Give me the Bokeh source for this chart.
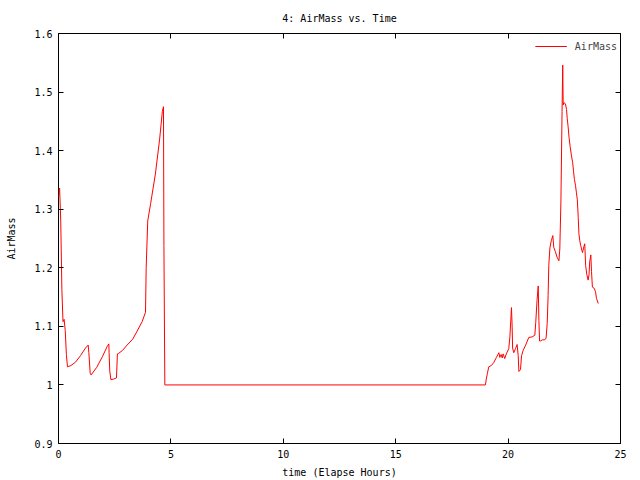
from bokeh.plotting import figure
from bokeh.models import (ColumnDataSource, FixedTicker, LinearAxis, CustomJSTickFormatter,
                          Range1d, Legend, LegendItem)
from bokeh.embed import file_html
from bokeh.resources import INLINE

# ---- data ----
time_hours = [
    0.00, 0.05, 0.10, 0.15, 0.20, 0.25, 0.30, 0.35, 0.40, 0.55, 0.76, 0.98, 1.20, 1.32,
    1.35, 1.41, 1.45, 1.70, 1.95, 2.17, 2.24, 2.25, 2.28, 2.33, 2.45, 2.58, 2.62, 2.68,
    2.85, 3.05, 3.30, 3.50, 3.72, 3.87, 3.90, 3.97, 4.10, 4.31, 4.50, 4.62, 4.67, 4.69,
    4.73, 18.99, 19.03, 19.08, 19.14, 19.25, 19.36, 19.48, 19.59, 19.63, 19.69, 19.74,
    19.78, 19.85, 19.92, 20.03, 20.08, 20.15, 20.18, 20.20, 20.25, 20.33, 20.40, 20.45,
    20.48, 20.55, 20.60, 20.67, 20.78, 20.92, 21.07, 21.19, 21.23, 21.29, 21.34, 21.37,
    21.40, 21.44, 21.52, 21.63, 21.69, 21.74, 21.78, 21.81, 21.86, 21.92, 21.99, 22.03,
    22.10, 22.18, 22.26, 22.30, 22.35, 22.40, 22.43, 22.45, 22.48, 22.55, 22.60, 22.63,
    22.67, 22.71, 22.76, 22.82, 22.87, 22.91, 22.95, 23.00, 23.04, 23.08, 23.12, 23.15,
    23.19, 23.23, 23.28, 23.31, 23.37, 23.41, 23.45, 23.50, 23.56, 23.60, 23.63, 23.68,
    23.71, 23.75, 23.83, 23.89, 23.93, 24.01,
]
airmass = [
    1.320, 1.336, 1.280, 1.163, 1.108, 1.112, 1.093, 1.052, 1.031, 1.033, 1.039, 1.050, 1.063, 1.068,
    1.055, 1.020, 1.017, 1.030, 1.048, 1.066, 1.070, 1.055, 1.024, 1.009, 1.010, 1.012, 1.053, 1.054,
    1.059, 1.068, 1.078, 1.092, 1.108, 1.124, 1.200, 1.280, 1.310, 1.360, 1.420, 1.467, 1.475, 1.238,
    1.000, 1.000, 1.010, 1.020, 1.031, 1.033, 1.038, 1.047, 1.055, 1.047, 1.052, 1.046,
    1.053, 1.045, 1.053, 1.062, 1.082, 1.132, 1.100, 1.063, 1.055, 1.062, 1.069, 1.050,
    1.023, 1.026, 1.050, 1.059, 1.068, 1.081, 1.082, 1.085, 1.107, 1.146, 1.169, 1.110,
    1.075, 1.075, 1.077, 1.077, 1.080, 1.105, 1.153, 1.204, 1.234, 1.246, 1.255, 1.235,
    1.228, 1.218, 1.212, 1.232, 1.314, 1.467, 1.546, 1.478, 1.482, 1.480, 1.470, 1.455,
    1.441, 1.423, 1.407, 1.391, 1.380, 1.365, 1.351, 1.340, 1.328, 1.316, 1.286, 1.258,
    1.246, 1.238, 1.230, 1.226, 1.236, 1.241, 1.204, 1.189, 1.179, 1.188, 1.210, 1.222,
    1.194, 1.167, 1.165, 1.159, 1.148, 1.139,
]
x_ticks = [0, 5, 10, 15, 20, 25]
y_ticks = [0.9, 1.0, 1.1, 1.2, 1.3, 1.4, 1.5, 1.6]
y_tick_labels = {0.9: "0.9", 1.0: "1", 1.1: "1.1", 1.2: "1.2", 1.3: "1.3", 1.4: "1.4", 1.5: "1.5", 1.6: "1.6"}
title_text = "4: AirMass vs. Time"
x_label = "time (Elapse Hours)"
y_label = "AirMass"
series_name = "AirMass"

FONT = "DejaVu Sans Mono"
FS = "10px"

p = figure(width=640, height=480, output_backend="svg", toolbar_location=None,
           x_range=Range1d(0, 25), y_range=Range1d(0.9, 1.6),
           min_border_left=58, min_border_right=20, min_border_top=33, min_border_bottom=34)
p.background_fill_color = "white"
p.border_fill_color = "white"
p.outline_line_color = "black"
p.outline_line_width = 1
p.xgrid.visible = False
p.ygrid.visible = False

p.title.text = title_text
p.title.align = "center"
p.title.text_font = FONT
p.title.text_font_size = FS
p.title.text_font_style = "normal"
p.title.text_color = "black"
p.title.standoff = 20

src = ColumnDataSource(dict(t=time_hours, a=airmass))
r = p.line("t", "a", source=src, line_color="red", line_width=1)

def style_axis(ax):
    ax.axis_line_color = None
    ax.major_tick_in = 5
    ax.major_tick_out = 0
    ax.minor_tick_line_color = None
    ax.major_tick_line_color = "black"
    ax.major_label_text_font = FONT
    ax.major_label_text_font_size = FS
    ax.major_label_text_color = "black"
    ax.axis_label_text_font = FONT
    ax.axis_label_text_font_size = FS
    ax.axis_label_text_font_style = "normal"
    ax.axis_label_text_color = "black"

xa = p.xaxis[0]
ya = p.yaxis[0]
style_axis(xa)
style_axis(ya)
xa.ticker = FixedTicker(ticks=x_ticks)
ya.ticker = FixedTicker(ticks=y_ticks)
ya.major_label_overrides = y_tick_labels
xa.axis_label = x_label
ya.axis_label = y_label
xa.major_label_standoff = 6
ya.major_label_standoff = 6
xa.axis_label_standoff = 6
ya.axis_label_standoff = 14

empty = CustomJSTickFormatter(code="return '';")
top = LinearAxis(ticker=FixedTicker(ticks=x_ticks), formatter=empty)
right = LinearAxis(ticker=FixedTicker(ticks=y_ticks), formatter=empty)
for ax in (top, right):
    style_axis(ax)
    ax.major_label_standoff = 0
p.add_layout(top, "above")
p.add_layout(right, "right")

legend = Legend(items=[LegendItem(label=series_name, renderers=[r])],
                location="top_right", border_line_color=None,
                background_fill_alpha=0, label_text_font=FONT, label_text_font_size=FS,
                glyph_width=32, label_standoff=8, margin=3, padding=0)
p.add_layout(legend)

open("out.html", "w").write(file_html(p, INLINE))
